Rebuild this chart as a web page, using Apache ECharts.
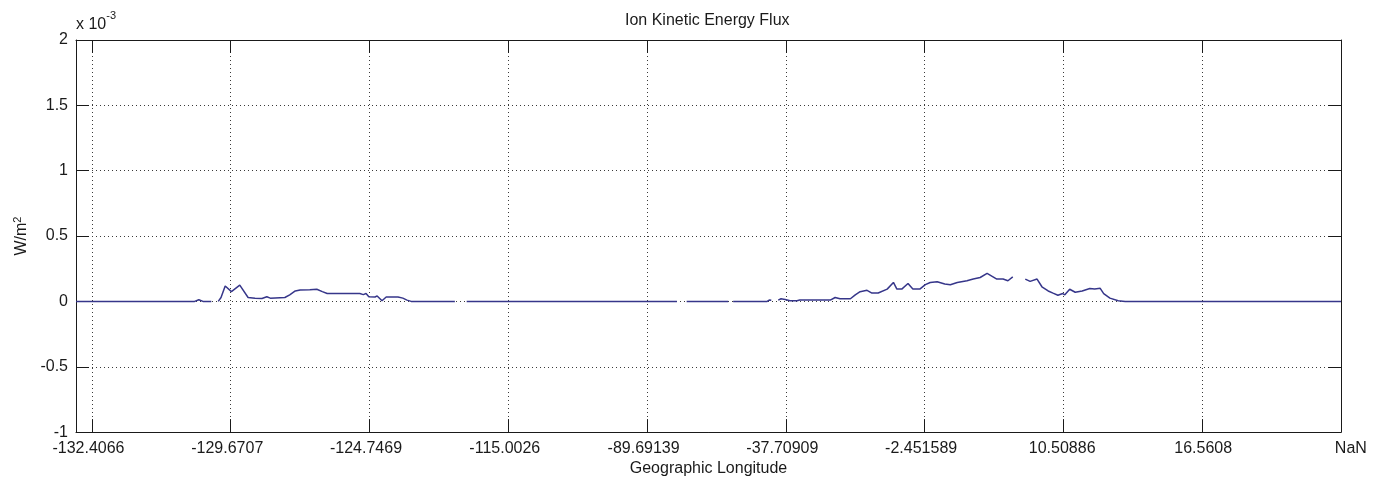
<!DOCTYPE html>
<html>
<head>
<meta charset="utf-8">
<script src="https://cdn.jsdelivr.net/npm/echarts@6/dist/echarts.min.js"></script>
<style>
  html, body { margin: 0; padding: 0; background: #ffffff; }
  #chart { width: 1375px; height: 482px; }
</style>
</head>
<body>
<div id="chart"></div>
<script>
// Sample number along the orbit pass (the axis spans samples 0 .. 1823)
const sampleIdx = [
  0, 171, 177, 183, 195, 200,
  205, 209, 215, 224, 236, 248, 258, 268, 275, 280, 301, 308, 316, 323, 337, 347,
  355, 362, 388, 409, 414, 418, 422, 431, 434, 441, 447, 464, 471, 477, 483, 546,
  552,
  563, 866,
  873,
  880, 940,
  943,
  947, 996, 999, 1002,
  1007,
  1012, 1016, 1022, 1029, 1039, 1043, 1087, 1094, 1101, 1116, 1123, 1130, 1140,
  1147, 1156, 1169, 1178, 1183, 1190, 1199, 1206, 1216, 1224, 1231, 1241, 1252,
  1260, 1270, 1284, 1293, 1303, 1313, 1327, 1336, 1343, 1350,
  1359,
  1368, 1375, 1385, 1392, 1401, 1408, 1415, 1422, 1425, 1432, 1440, 1450, 1461,
  1468, 1476, 1481, 1490, 1502, 1512, 1823
];

// Ion kinetic energy flux in units of 1e-3 W/m^2 (null marks a data gap)
const fluxE3 = [
  0, 0, 0.013, 0, 0, null,
  0, 0.03, 0.118, 0.075, 0.124, 0.03, 0.025, 0.022, 0.035, 0.025, 0.03, 0.05, 0.08, 0.088, 0.09, 0.093,
  0.075, 0.06, 0.06, 0.06, 0.052, 0.06, 0.035, 0.034, 0.042, 0.005, 0.034, 0.034, 0.025, 0.01, 0, 0,
  null,
  0, 0,
  null,
  0, 0,
  null,
  0, 0, 0.01, 0.008,
  null,
  0.01, 0.02, 0.015, 0.005, 0.005, 0.01, 0.01, 0.03, 0.02, 0.02, 0.05, 0.074, 0.085,
  0.064, 0.064, 0.094, 0.145, 0.094, 0.094, 0.137, 0.094, 0.094, 0.128, 0.145, 0.15, 0.133,
  0.128, 0.145, 0.158, 0.171, 0.183, 0.214, 0.171, 0.171, 0.158, 0.187,
  null,
  0.171, 0.153, 0.171, 0.112, 0.08, 0.063, 0.047, 0.06, 0.05, 0.093, 0.07, 0.08, 0.098,
  0.095, 0.1, 0.06, 0.025, 0.005, 0, 0
];

// Longitude printed at every 200th sample
const tickSamples = [23, 223, 423, 623, 823, 1023, 1223, 1423, 1623, 1823];
const tickLabels = [
  '-132.4066', '-129.6707', '-124.7469', '-115.0026', '-89.69139',
  '-37.70909', '-2.451589', '10.50886', '16.5608', 'NaN'
];

const yTicks = { min: -1, max: 2, interval: 0.5 };

const FONT = "'Liberation Sans', Arial, Helvetica, sans-serif";
const INK = '#1a1a1a';

const seriesData = sampleIdx.map((s, i) => [s, fluxE3[i] === null ? '-' : fluxE3[i]]);

function longitudeLabel(v) {
  const i = tickSamples.indexOf(Math.round(v));
  if (i < 0) return '';
  // labels are right-justified to a common width
  return tickLabels[i].padStart(9, ' ');
}

const chart = echarts.init(document.getElementById('chart'), null, { renderer: 'canvas' });

const frameLine = { show: true, onZero: false, lineStyle: { color: INK, width: 1 } };
const innerTick = { show: true, inside: true, length: 13, lineStyle: { color: INK, width: 1 } };
const dotted = { show: true, lineStyle: { color: '#3a3a3a', width: 1, type: [1, 3] } };

chart.setOption({
  backgroundColor: '#ffffff',
  animation: false,
  textStyle: { fontFamily: FONT },
  title: {
    text: 'Ion Kinetic Energy Flux',
    left: 620,
    top: 8,
    textStyle: { fontFamily: FONT, fontSize: 16, fontWeight: 'normal', color: INK }
  },
  grid: { left: 76, right: 34, top: 40, bottom: 49, containLabel: false },
  xAxis: [
    {
      type: 'value',
      position: 'bottom',
      min: 0,
      max: 1823,
      axisLine: frameLine,
      axisTick: Object.assign({ customValues: tickSamples }, innerTick),
      axisLabel: {
        customValues: tickSamples,
        formatter: longitudeLabel,
        margin: 8,
        fontFamily: FONT,
        fontSize: 16,
        color: INK,
        padding: [0, 7, 0, 0]
      },
      splitLine: dotted,
      name: 'Geographic Longitude',
      nameLocation: 'middle',
      nameGap: 25,
      nameTextStyle: { fontFamily: FONT, fontSize: 16, color: INK }
    },
    {
      type: 'value',
      position: 'top',
      min: 0,
      max: 1823,
      axisLine: frameLine,
      axisTick: Object.assign({ customValues: tickSamples }, innerTick),
      axisLabel: { show: false },
      splitLine: { show: false }
    }
  ],
  yAxis: [
    {
      type: 'value',
      position: 'left',
      min: yTicks.min,
      max: yTicks.max,
      interval: yTicks.interval,
      axisLine: frameLine,
      axisTick: innerTick,
      axisLabel: {
        margin: 8,
        fontFamily: FONT,
        fontSize: 16,
        color: INK,
        formatter: v => String(v)
      },
      splitLine: dotted,
      name: '{b|W/m}{s|2}',
      nameLocation: 'middle',
      nameGap: 44,
      nameTextStyle: {
        rich: {
          b: { fontFamily: FONT, fontSize: 16, color: INK },
          s: { fontFamily: FONT, fontSize: 11, color: INK, verticalAlign: 'top', padding: [0, 0, 7, 0] }
        }
      }
    },
    {
      type: 'value',
      position: 'right',
      min: yTicks.min,
      max: yTicks.max,
      interval: yTicks.interval,
      axisLine: frameLine,
      axisTick: innerTick,
      axisLabel: { show: false },
      splitLine: { show: false }
    }
  ],
  graphic: [
    {
      // scale factor of the value axis
      type: 'text',
      left: 76,
      top: 10,
      silent: true,
      style: {
        text: '{b|x 10}{s|-3}',
        rich: {
          b: { fontFamily: FONT, fontSize: 16, fill: INK, padding: [7, 0, 0, 0] },
          s: { fontFamily: FONT, fontSize: 11, fill: INK, verticalAlign: 'top' }
        }
      }
    }
  ],
  series: [
    {
      type: 'line',
      xAxisIndex: 0,
      yAxisIndex: 0,
      data: seriesData,
      showSymbol: false,
      connectNulls: false,
      lineStyle: { color: '#36368a', width: 1.5 },
      itemStyle: { color: '#36368a' },
      z: 5
    }
  ]
});
</script>
</body>
</html>
